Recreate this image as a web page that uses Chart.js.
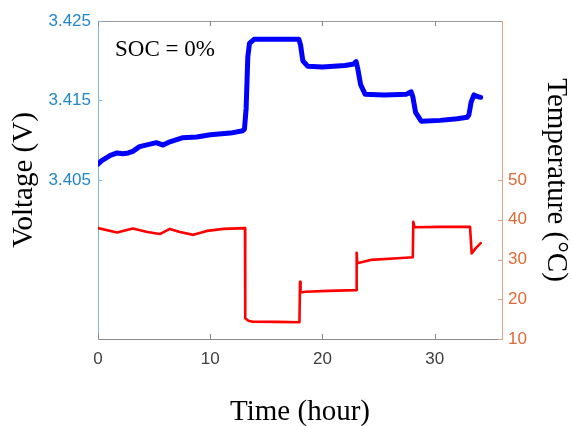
<!DOCTYPE html>
<html>
<head>
<meta charset="utf-8">
<script src="https://cdn.jsdelivr.net/npm/chart.js@4"></script>
<style>
  html, body { margin: 0; padding: 0; background: #ffffff; }
  #wrap { width: 572px; height: 426px; }
</style>
</head>
<body>
<div id="wrap"><canvas id="c" width="572" height="426"></canvas></div>
<script>
// ---- data ----
const voltTime = [0, 0.3, 1.1, 1.7, 2.2, 2.7, 3.1, 3.7, 5.2, 5.8, 6.4, 7.5, 8.8, 10.0, 11.8, 12.9, 13.05,
  13.2, 13.35, 13.5, 13.9, 15.5, 17.9, 18.05, 18.25, 18.7, 20.0, 22.0, 22.8, 23.0, 23.15, 23.4, 23.8,
  25.5, 27.5, 27.9, 28.05, 28.3, 28.8, 30.5, 32.0, 32.9, 33.05, 33.25, 33.5, 33.8, 34.1];
const voltage = [3.4070, 3.4074, 3.4081, 3.4084, 3.4083, 3.4084, 3.4086, 3.4092, 3.4097, 3.4094, 3.4098,
  3.4103, 3.4104, 3.4107, 3.4109, 3.4112, 3.4114, 3.4140, 3.4205, 3.4222, 3.4227, 3.4227, 3.4227,
  3.4220, 3.4200, 3.4193, 3.4192, 3.4194, 3.4196, 3.4199, 3.4190, 3.4170, 3.4158, 3.4157, 3.4158,
  3.4161, 3.4155, 3.4135, 3.4124, 3.4125, 3.4127, 3.4129, 3.4132, 3.4148, 3.4157, 3.4155, 3.4154];

const tempTime = [0, 1.7, 3.1, 4.4, 5.5, 6.4, 7.3, 8.5, 9.7, 11.2, 13.1, 13.12, 13.4, 13.8, 16.0, 17.95,
  18.0, 18.05, 18.5, 20.5, 23.0, 23.05, 23.1, 24.3, 26.7, 28.05, 28.1, 28.2, 30.5, 33.15, 33.3, 33.65, 34.1];
const temperature = [37.9, 36.8, 37.8, 36.9, 36.4, 37.7, 36.9, 36.2, 37.2, 37.7, 37.9, 15.2, 14.6, 14.35,
  14.3, 14.2, 24.4, 21.7, 21.9, 22.1, 22.3, 31.7, 29.05, 29.9, 30.3, 30.55, 39.5, 38.1, 38.2, 38.2,
  31.55, 32.8, 34.1];

const xTicks = [0, 10, 20, 30];
const voltTicks = [3.405, 3.415, 3.425];
const tempTicks = [10, 20, 30, 40, 50];

const xLabel = 'Time (hour)';
const voltLabel = 'Voltage (V)';
const tempLabel = 'Temperature (°C)';
const annotation = 'SOC = 0%';

// ---- styles ----
const blueTick = '#2386c8';
const blueAxis = '#7fb5df';
const orangeTick = '#dd6a35';
const orangeAxis = '#dba487';
const greyAxis = '#8a8a8a';

const toPts = (xs, ys) => xs.map((x, i) => ({ x: x, y: ys[i] }));
const setTicks = arr => scale => { scale.ticks = arr.map(v => ({ value: v })); };

const deco = {
  id: 'deco',
  afterDatasetsDraw(chart) {
    const { ctx, chartArea: a, scales } = chart;
    ctx.save();
    ctx.lineWidth = 1;
    // top box line
    ctx.strokeStyle = '#9a9a9a';
    ctx.beginPath();
    ctx.moveTo(a.left, a.top + 0.5); ctx.lineTo(a.right, a.top + 0.5);
    ctx.stroke();
    // x ticks (inward, bottom and top)
    ctx.strokeStyle = greyAxis;
    ctx.beginPath();
    xTicks.forEach(v => {
      const px = Math.round(scales.x.getPixelForValue(v)) + 0.5;
      ctx.moveTo(px, a.bottom); ctx.lineTo(px, a.bottom - 5);
      ctx.moveTo(px, a.top); ctx.lineTo(px, a.top + 5);
    });
    ctx.stroke();
    // left ticks
    ctx.strokeStyle = blueAxis;
    ctx.beginPath();
    voltTicks.forEach(v => {
      const py = Math.round(scales.y.getPixelForValue(v)) + 0.5;
      ctx.moveTo(a.left, py); ctx.lineTo(a.left + 4, py);
    });
    ctx.stroke();
    // right ticks
    ctx.strokeStyle = orangeAxis;
    ctx.beginPath();
    tempTicks.forEach(v => {
      const py = Math.round(scales.y2.getPixelForValue(v)) + 0.5;
      ctx.moveTo(a.right, py); ctx.lineTo(a.right - 4, py);
    });
    ctx.stroke();
    // annotation
    ctx.fillStyle = '#000000';
    ctx.font = '23px "Liberation Serif", "Times New Roman", serif';
    ctx.textAlign = 'left';
    ctx.textBaseline = 'middle';
    ctx.fillText(annotation, a.left + 17, a.top + 29);
    ctx.restore();
  }
};

new Chart(document.getElementById('c'), {
  type: 'line',
  data: {
    datasets: [
      {
        label: 'Voltage',
        data: toPts(voltTime, voltage),
        yAxisID: 'y',
        borderColor: '#0000ff',
        borderWidth: 5,
        pointRadius: 0,
        tension: 0,
        borderJoinStyle: 'round',
        borderCapStyle: 'round'
      },
      {
        label: 'Temperature',
        data: toPts(tempTime, temperature),
        yAxisID: 'y2',
        borderColor: '#ff0000',
        borderWidth: 2.6,
        pointRadius: 0,
        tension: 0,
        borderJoinStyle: 'round',
        borderCapStyle: 'round'
      }
    ]
  },
  options: {
    responsive: false,
    animation: false,
    devicePixelRatio: 1,
    layout: { padding: { left: 0, right: 0, top: 21, bottom: 0 } },
    plugins: { legend: { display: false }, tooltip: { enabled: false } },
    scales: {
      x: {
        type: 'linear',
        min: 0, max: 36,
        afterBuildTicks: setTicks(xTicks),
        afterFit: s => { s.height = 87; },
        grid: { display: true, drawOnChartArea: false, drawTicks: false },
        border: { color: greyAxis, width: 1 },
        ticks: { color: '#404040', padding: 10, font: { family: 'Liberation Sans', size: 17 } },
        title: { display: true, text: xLabel, color: '#000000', padding: { top: 0, bottom: -1 },
                 font: { family: 'Liberation Serif', size: 29, lineHeight: 1 } }
      },
      y: {
        type: 'linear',
        position: 'left',
        min: 3.385, max: 3.425,
        afterBuildTicks: setTicks(voltTicks),
        afterFit: s => { s.width = 98; },
        grid: { display: true, drawOnChartArea: false, drawTicks: false },
        border: { color: blueAxis, width: 1 },
        ticks: { color: blueTick, padding: 7, font: { family: 'Liberation Sans', size: 17 },
                 callback: v => v.toFixed(3) },
        title: { display: true, text: voltLabel, color: '#000000', padding: { top: 10, bottom: 0 },
                 font: { family: 'Liberation Serif', size: 29, lineHeight: 1 } }
      },
      y2: {
        type: 'linear',
        position: 'right',
        min: 10, max: 90,
        afterBuildTicks: setTicks(tempTicks),
        afterFit: s => { s.width = 70; },
        grid: { display: true, drawOnChartArea: false, drawTicks: false },
        border: { color: orangeAxis, width: 1 },
        ticks: { color: orangeTick, padding: 6, font: { family: 'Liberation Sans', size: 17 } },
        title: { display: true, text: tempLabel, color: '#000000', padding: { top: 1.5, bottom: 0 },
                 font: { family: 'Liberation Serif', size: 29, lineHeight: 1 } }
      }
    }
  },
  plugins: [deco]
});
</script>
</body>
</html>
